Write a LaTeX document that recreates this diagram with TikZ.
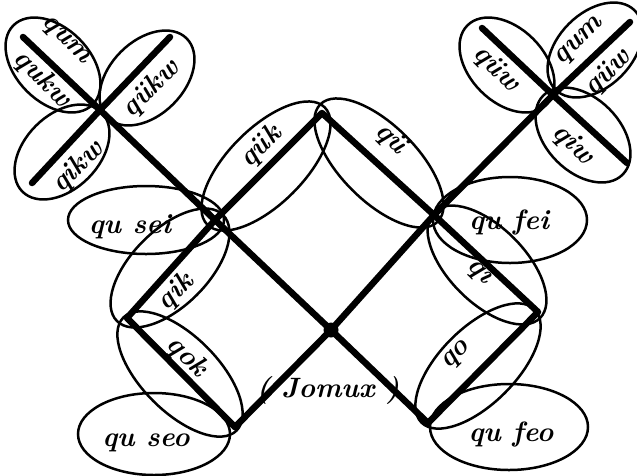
\documentclass[tikz,border=0pt]{standalone}
\usepackage{tikz}
\usetikzlibrary{shapes.geometric,calc}

\begin{document}
\begin{tikzpicture}[x=1pt,y=-1pt,
bar/.style={line width=6.5pt,line cap=round,line join=round},
petal/.style={draw,ellipse,line width=2.5pt,inner sep=0pt,minimum width=112pt,minimum height=74pt},
pod/.style={petal,minimum width=166pt,minimum height=76pt},
cloud/.style={draw,ellipse,line width=2.5pt,inner sep=0pt},
word/.style={inner sep=0pt,font=\fontsize{28}{30}\selectfont\bfseries\itshape}]
\useasboundingbox (0,0) rectangle (637,475);
% junctions
\coordinate (tl) at (100,110);
\coordinate (tr) at (553,95);
\coordinate (a) at (215,220);
\coordinate (b) at (322,113);
\coordinate (c) at (434,215);
\coordinate (d) at (331,330);
\coordinate (e) at (235,427);
\coordinate (f) at (127,318);
\coordinate (g) at (428,423);
\coordinate (h) at (538,312);
% free ends of the two crosses
\coordinate (tl1) at (23,37);
\coordinate (tl2) at (170,37);
\coordinate (tl3) at (32,183);
\coordinate (tr1) at (482,28);
\coordinate (tr2) at (630,22);
\coordinate (tr3) at (627,163);

% ellipses
\node[petal,rotate=-45] (pum) at (53,65) {};
\node[petal,rotate=45] (pukw) at (147,78) {};
\node[petal,rotate=45] (pikw) at (62,152) {};
\node[petal,rotate=-45] (puw) at (507,65) {};
\node[petal,rotate=45] (pumr) at (595,50) {};
\node[petal,rotate=-45] (piw) at (583,135) {};
\node[pod,rotate=45] (puk) at (266,166) {};
\node[pod,rotate=-45] (pu) at (379,163) {};
\node[pod,rotate=45,minimum width=150pt] (pik) at (170,268) {};
\node[pod,rotate=-45,minimum width=160pt] (pok) at (180,374) {};
\node[pod,rotate=-45,minimum width=150pt] (pi) at (487,265) {};
\node[pod,rotate=45,minimum width=160pt] (po) at (478,366) {};
\node[cloud,minimum width=156pt,minimum height=68pt] (sei) at (146,220) {};
\node[cloud,minimum width=152pt,minimum height=82pt] (seo) at (154,434) {};
\node[cloud,minimum width=154pt,minimum height=86pt] (fei) at (510,220) {};
\node[cloud,minimum width=158pt,minimum height=86pt] (feo) at (509,427) {};

% bars
\draw[bar] (tl1) -- (tl) -- (a) -- (d) -- (g);
\draw[bar] (tl3) -- (tl) -- (tl2);
\draw[bar] (e) -- (d) -- (c) -- (tr) -- (tr2);
\draw[bar] (tr1) -- (tr) -- (tr3);
\draw[bar] (a) -- (b) -- (c) -- (h) -- (g);
\draw[bar] (a) -- (f) -- (e);
\fill (d) circle (7.5pt);

% words
\node[word,rotate=-45] at (65,41) {qum};
\node[word,rotate=-45] at (42,79) {qukw};
\node[word,rotate=45] at (151,89) {qükw};
\node[word,rotate=45] at (78,167) {qikw};
\node[word,rotate=-45] at (496,69) {qüw};
\node[word,rotate=45] at (580,42) {qum};
\node[word,rotate=45] at (608,73) {qüw};
\node[word,rotate=-45] at (573,145) {qiw};
\node[word,rotate=45] at (261,147) {qük};
\node[word,rotate=-45] at (391,139) {qü};
\node[word,rotate=45] at (176,292) {qik};
\node[word,rotate=-45] at (187,357) {qok};
\node[word,rotate=-45] at (478,273) {q\i};
\node[word,rotate=45] at (457,356) {qo};
\node[word] at (130,227) {qu sei};
\node[word] at (146,443) {qu seo};
\node[word] at (509,222) {qu fei};
\node[word] at (511,434) {qu feo};
\node[word] at (328,390) {( Jomux )};
\end{tikzpicture}
\end{document}
